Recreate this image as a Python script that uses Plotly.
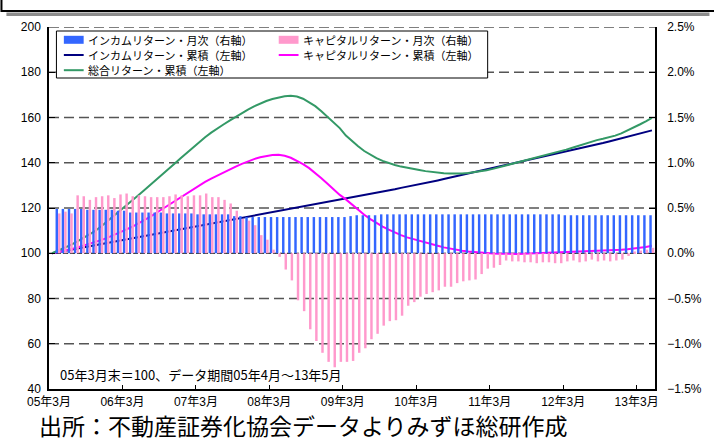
import plotly.graph_objects as go

# ---- data -------------------------------------------------------------
# month index 0 = 05年3月末 (base = 100), 1..98 = 05年4月 .. 13年5月
tick_labels = ["05年3月", "06年3月", "07年3月", "08年3月", "09年3月",
               "10年3月", "11年3月", "12年3月", "13年3月"]

# monthly income return (%), right axis
income_monthly = [
    0.49, 0.49, 0.49, 0.49, 0.49, 0.48, 0.48, 0.48, 0.48, 0.48,
    0.47, 0.47, 0.45, 0.45, 0.45, 0.45, 0.45, 0.45, 0.44, 0.44,
    0.44, 0.44, 0.44, 0.43, 0.43, 0.43, 0.43, 0.43, 0.43, 0.41,
    0.41, 0.40, 0.40, 0.40, 0.40, 0.40, 0.40, 0.40, 0.40, 0.40,
    0.40, 0.40, 0.40, 0.40, 0.40, 0.40, 0.40, 0.40, 0.41, 0.42,
    0.42, 0.42, 0.42, 0.43, 0.43, 0.43, 0.43, 0.43, 0.43, 0.43,
    0.43, 0.43, 0.43, 0.43, 0.43, 0.43, 0.43, 0.43, 0.43, 0.43,
    0.43, 0.43, 0.43, 0.43, 0.43, 0.43, 0.43, 0.43, 0.43, 0.43,
    0.43, 0.43, 0.43, 0.42, 0.42, 0.42, 0.42, 0.42, 0.42, 0.42,
    0.42, 0.42, 0.42, 0.42, 0.42, 0.42, 0.42, 0.42,
]

# monthly capital return (%), right axis
capital_monthly = [
    0.44, 0.46, 0.44, 0.64, 0.63, 0.59, 0.62, 0.63, 0.64, 0.61,
    0.65, 0.66, 0.63, 0.64, 0.63, 0.62, 0.62, 0.62, 0.63, 0.65,
    0.64, 0.63, 0.64, 0.64, 0.66, 0.62, 0.62, 0.59, 0.55, 0.47,
    0.38, 0.36, 0.31, 0.20, 0.15, 0.04, -0.04, -0.18, -0.30, -0.52,
    -0.64, -0.84, -0.97, -1.10, -1.20, -1.26, -1.20, -1.20, -1.19, -1.10,
    -1.05, -0.95, -0.89, -0.80, -0.75, -0.74, -0.69, -0.58, -0.54, -0.48,
    -0.45, -0.43, -0.41, -0.37, -0.37, -0.33, -0.31, -0.30, -0.29, -0.23,
    -0.17, -0.16, -0.13, -0.08, -0.09, -0.09, -0.10, -0.10, -0.11, -0.10,
    -0.10, -0.11, -0.11, -0.09, -0.08, -0.10, -0.09, -0.07, -0.09, -0.08,
    -0.09, -0.08, -0.07, -0.03, 0.02, 0.03, 0.04, 0.06,
]

# cumulative indices (05年3月末 = 100), left axis
income_cum = [
    100.0, 100.5, 101.0, 101.5, 102.0, 102.6, 103.1, 103.6, 104.1, 104.6,
    105.1, 105.6, 106.1, 106.6, 107.1, 107.7, 108.2, 108.7, 109.2, 109.7,
    110.2, 110.7, 111.2, 111.7, 112.2, 112.7, 113.2, 113.7, 114.2, 114.7,
    115.2, 115.7, 116.2, 116.7, 117.2, 117.7, 118.2, 118.7, 119.2, 119.7,
    120.2, 120.7, 121.2, 121.7, 122.2, 122.7, 123.2, 123.7, 124.2, 124.7,
    125.2, 125.7, 126.2, 126.7, 127.3, 127.8, 128.3, 128.9, 129.4, 130.0,
    130.5, 131.1, 131.7, 132.2, 132.8, 133.4, 134.0, 134.6, 135.2, 135.8,
    136.4, 137.0, 137.6, 138.2, 138.8, 139.4, 140.0, 140.7, 141.3, 141.9,
    142.5, 143.1, 143.7, 144.3, 145.0, 145.6, 146.2, 146.8, 147.5, 148.1,
    148.7, 149.4, 150.1, 150.8, 151.5, 152.2, 152.9, 153.6, 154.3,
]

capital_cum = [
    100.0, 100.5, 101.1, 101.7, 102.4, 103.2, 104.0, 104.9, 105.8, 106.8,
    107.9, 109.1, 110.3, 111.6, 113.0, 114.5, 116.1, 117.8, 119.5, 121.2,
    123.0, 124.8, 126.6, 128.3, 129.9, 131.5, 133.0, 134.4, 135.8, 137.1,
    138.3, 139.5, 140.6, 141.6, 142.4, 143.0, 143.4, 143.5, 143.1, 142.2,
    140.9, 139.4, 137.6, 135.5, 133.2, 130.7, 128.2, 125.8, 123.8, 121.4,
    119.1, 117.0, 115.1, 113.3, 111.8, 110.4, 109.1, 108.0, 107.0, 106.2,
    105.4, 104.7, 104.0, 103.3, 102.6, 102.0, 101.5, 101.1, 100.8, 100.5,
    100.3, 100.1, 99.9, 99.8, 99.7, 99.7, 99.7, 99.8, 99.9, 100.0,
    100.2, 100.4, 100.5, 100.7, 100.8, 100.9, 101.0, 101.1, 101.2, 101.2,
    101.3, 101.3, 101.4, 101.6, 101.8, 102.0, 102.4, 102.8, 103.3,
]

total_cum = [
    100.0, 101.1, 102.3, 103.6, 105.0, 106.5, 108.1, 109.8, 111.8, 114.0,
    116.2, 118.4, 120.6, 123.0, 125.4, 127.7, 130.0, 132.4, 134.8, 137.2,
    139.6, 142.0, 144.4, 146.8, 149.1, 151.3, 153.3, 155.2, 156.9, 158.6,
    160.3, 162.0, 163.5, 164.9, 166.2, 167.3, 168.2, 168.9, 169.4, 169.6,
    169.3, 168.3, 166.8, 165.0, 162.8, 160.3, 157.8, 155.3, 152.0, 149.5,
    147.3, 145.2, 143.4, 142.0, 140.8, 139.8, 139.0, 138.3, 137.7, 137.2,
    136.8, 136.3, 135.9, 135.6, 135.4, 135.3, 135.2, 135.3, 135.5, 135.8,
    136.2, 136.7, 137.3, 138.0, 138.7, 139.4, 140.1, 140.7, 141.4, 142.0,
    142.7, 143.4, 144.1, 144.9, 145.8, 146.6, 147.5, 148.3, 149.2, 150.0,
    150.6, 151.2, 152.0, 153.0, 154.2, 155.5, 156.9, 158.3, 159.8,
]

series_names = [
    "インカムリターン・月次（右軸）",
    "キャピタルリターン・月次（右軸）",
    "インカムリターン・累積（左軸）",
    "キャピタルリターン・累積（左軸）",
    "総合リターン・累積（左軸）",
]

note_text = "05年3月末＝100、データ期間05年4月～13年5月"
source_text = "出所：不動産証券化協会データよりみずほ総研作成"

# ---- styling ----------------------------------------------------------
BLUE, PINK = "#3366FF", "#FF99CC"
NAVY, MAGENTA, GREEN = "#000080", "#FF00FF", "#339966"
GRID = "#555555"
FONT = "Liberation Sans, Noto Sans CJK JP, sans-serif"
CJK = "Noto Sans CJK JP, sans-serif"

W, H = 714, 441
L, R, T, B = 49, 53, 27, 52
PW, PH = W - L - R, H - T - B

def px(x):
    return (x - L) / PW

def py(y):
    return (H - B - y) / PH

m_all = list(range(len(income_cum)))
m_bar = list(range(1, len(income_monthly) + 1))

fig = go.Figure()

fig.add_trace(go.Bar(x=m_bar, y=income_monthly, yaxis="y2", name=series_names[0],
                     marker=dict(color=BLUE, line=dict(width=0)),
                     width=0.40, offset=-0.43, showlegend=False))
fig.add_trace(go.Bar(x=m_bar, y=capital_monthly, yaxis="y2", name=series_names[1],
                     marker=dict(color=PINK, line=dict(width=0)),
                     width=0.40, offset=-0.02, showlegend=False))
fig.add_trace(go.Scatter(x=m_all, y=income_cum, mode="lines", name=series_names[2],
                         line=dict(color=NAVY, width=2), showlegend=False))
fig.add_trace(go.Scatter(x=m_all, y=capital_cum, mode="lines", name=series_names[3],
                         line=dict(color=MAGENTA, width=2), showlegend=False))
fig.add_trace(go.Scatter(x=m_all, y=total_cum, mode="lines", name=series_names[4],
                         line=dict(color=GREEN, width=2), showlegend=False))

shapes = []
# dashed horizontal gridlines (left axis values)
for v in [60, 80, 120, 140, 160, 180, 200]:
    shapes.append(dict(type="line", xref="paper", yref="y", x0=0, x1=1, y0=v, y1=v,
                       line=dict(color=GRID, width=1.3, dash="10px,5px"), layer="below"))
# base line (100 / 0%)
shapes.append(dict(type="line", xref="paper", yref="y", x0=0, x1=1, y0=100, y1=100,
                   line=dict(color="#000000", width=1, dash="5px,2px"), layer="below"))

# legend box and symbols
ROW = [39.8, 55.0, 70.2]
COL = [64, 281]
shapes.append(dict(type="rect", xref="paper", yref="paper",
                   x0=px(56.5), x1=px(492), y0=py(31), y1=py(78),
                   line=dict(color="#000000", width=1), fillcolor="#FFFFFF", layer="above"))
legend_items = [
    (COL[0], ROW[0], "bar", BLUE), (COL[1], ROW[0], "bar", PINK),
    (COL[0], ROW[1], "line", NAVY), (COL[1], ROW[1], "line", MAGENTA),
    (COL[0], ROW[2], "line", GREEN),
]
for (lx, ly, kind, col) in legend_items:
    if kind == "bar":
        shapes.append(dict(type="rect", xref="paper", yref="paper",
                           x0=px(lx), x1=px(lx + 20), y0=py(ly + 4), y1=py(ly - 4),
                           line=dict(width=0), fillcolor=col, layer="above"))
    else:
        shapes.append(dict(type="line", xref="paper", yref="paper",
                           x0=px(lx), x1=px(lx + 20), y0=py(ly), y1=py(ly),
                           line=dict(color=col, width=2), layer="above"))

# frame strip along the top edge
shapes.append(dict(type="rect", xref="paper", yref="paper",
                   x0=px(1), x1=px(760), y0=py(-40), y1=py(11),
                   line=dict(color="#000000", width=2), fillcolor="rgba(0,0,0,0)"))
shapes.append(dict(type="rect", xref="paper", yref="paper",
                   x0=px(6), x1=px(716), y0=py(16), y1=py(12.5),
                   line=dict(width=0), fillcolor="#8C8C8C"))

annotations = []
# legend labels
legend_font = dict(family=CJK, size=11, color="#000000")
for (lx, ly, kind, col), name in zip(legend_items, series_names):
    annotations.append(dict(xref="paper", yref="paper", x=px(lx + 22), y=py(ly),
                            xanchor="left", yanchor="middle", text=name, showarrow=False,
                            font=legend_font))
annotations.append(dict(xref="paper", yref="paper", x=px(58), y=py(374),
                        xanchor="left", yanchor="middle", text=note_text, showarrow=False,
                        font=dict(family=CJK, size=13, color="#000000")))
annotations.append(dict(xref="paper", yref="paper", x=px(37), y=py(425.3),
                        xanchor="left", yanchor="middle", text=source_text, showarrow=False,
                        font=dict(family=CJK, size=23, color="#000000")))

fig.update_layout(
    width=W, height=H,
    margin=dict(l=L, r=R, t=T, b=B),
    paper_bgcolor="#FFFFFF", plot_bgcolor="#FFFFFF",
    barmode="overlay",
    font=dict(family=FONT, size=12, color="#000000"),
    shapes=shapes, annotations=annotations,
    xaxis=dict(range=[-0.5, 98.5], tickvals=[-0.5 + 12 * i for i in range(len(tick_labels))],
               ticktext=tick_labels, ticks="inside", ticklen=4, tickcolor="#000000",
               showline=True, linecolor="#000000", linewidth=1.5, showgrid=False,
               zeroline=False, tickfont=dict(family=FONT, size=12), ticklabelstandoff=1),
    yaxis=dict(range=[40, 200], tickvals=list(range(40, 201, 20)),
               ticks="inside", ticklen=6, tickcolor="#000000",
               showline=True, linecolor="#000000", linewidth=1.5, showgrid=False,
               zeroline=False, tickfont=dict(family=FONT, size=12), ticklabelstandoff=4),
    yaxis2=dict(range=[-1.5, 2.5], overlaying="y", side="right",
                tickvals=[-1.5, -1.0, -0.5, 0.0, 0.5, 1.0, 1.5, 2.0, 2.5],
                ticktext=["−1.5%", "−1.0%", "−0.5%", "0.0%", "0.5%", "1.0%", "1.5%", "2.0%", "2.5%"],
                ticks="inside", ticklen=6, tickcolor="#000000",
                showline=True, linecolor="#000000", linewidth=1.5, showgrid=False,
                zeroline=False, tickfont=dict(family=FONT, size=12), ticklabelstandoff=8),
)

fig.write_html("out.html")
